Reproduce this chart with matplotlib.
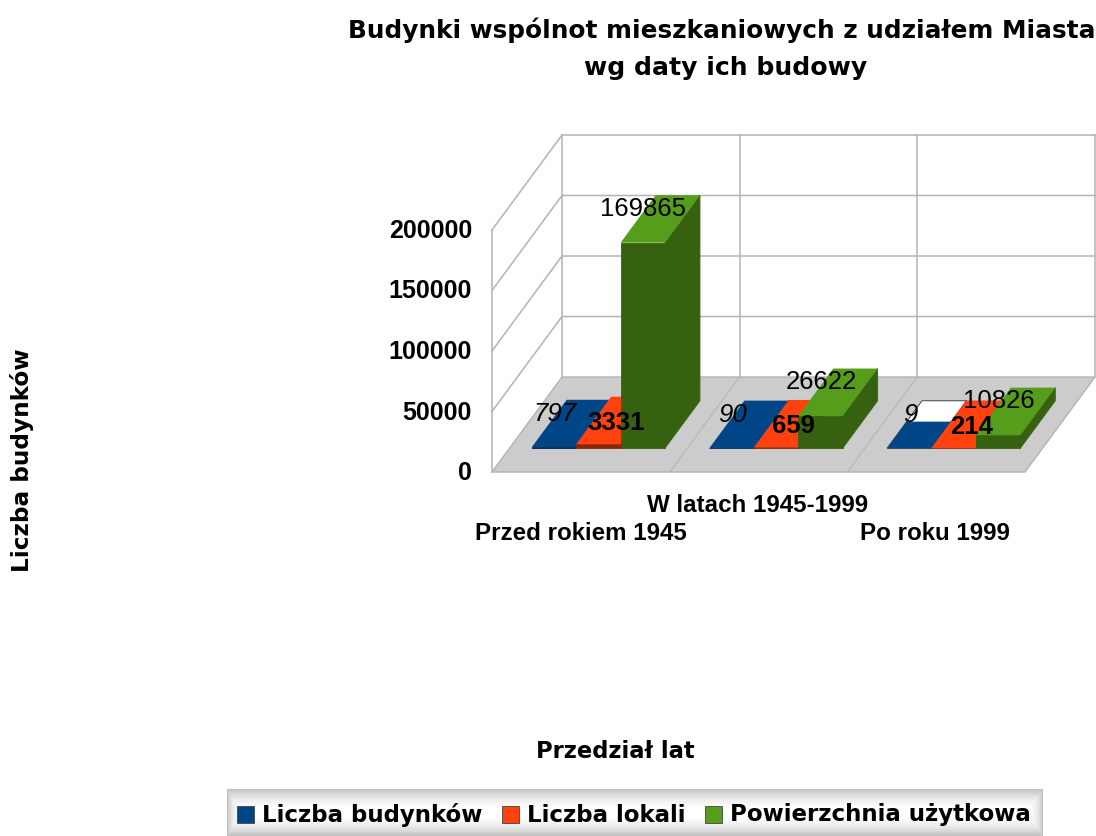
import numpy as np
import matplotlib
matplotlib.use("Agg")
import matplotlib.pyplot as plt
from matplotlib.patches import Polygon, Rectangle

title_lines = ["Budynki wspólnot mieszkaniowych z udziałem Miasta", "wg daty ich budowy"]
categories = ["Przed rokiem 1945", "W latach 1945-1999", "Po roku 1999"]
series_names = ["Liczba budynków", "Liczba lokali", "Powierzchnia użytkowa"]
budynki = [797, 90, 9]
lokale = [3331, 659, 214]
powierzchnia = [169865, 26622, 10826]
y_ticks = [0, 50000, 100000, 150000, 200000]

colors = ["#004586", "#ff420e", "#579d1c"]
dark_colors = ["#00254a", "#8c2408", "#366111"]
GRID = "#b3b3b3"
FLOOR = "#cccccc"

# plot box in pixels
X0, Y0 = 492, 472      # front left corner of the floor
DX, DY = 70, -95       # full depth of the box
CAT_W = 533 / 3
PX_PER_UNIT = 60.5 / 50000


def proj(cat, value, depth):
    # cat in category units, value in data units, depth 0 front .. 1 back
    return (X0 + cat * CAT_W + depth * DX, Y0 + depth * DY - value * PX_PER_UNIT)


fig = plt.figure(figsize=(10.96, 8.36), dpi=100)
ax = fig.add_axes([0, 0, 1, 1])
ax.set_axis_off()

# floor
ax.add_patch(Polygon([proj(0, 0, 0), proj(3, 0, 0), proj(3, 0, 1), proj(0, 0, 1)],
                     facecolor=FLOOR, edgecolor=GRID, lw=1, zorder=1))
for i in range(1, 3):
    ax.plot(*zip(proj(i, 0, 0), proj(i, 0, 1)), color=GRID, lw=0.7, zorder=2)

# walls and grid
for v in y_ticks[1:]:
    ax.plot(*zip(proj(0, v, 0), proj(0, v, 1), proj(3, v, 1)), color=GRID, lw=1.1, zorder=1)
ax.plot(*zip(proj(0, 0, 0), proj(0, 200000, 0)), color=GRID, lw=1.1, zorder=1)
for i in range(4):
    ax.plot(*zip(proj(i, 0, 1), proj(i, 200000, 1)), color=GRID, lw=1.1, zorder=1)

# tick labels
for v in y_ticks:
    x, y = proj(0, v, 0)
    ax.text(x - 20, y + 1, str(v), ha="right", va="center", family="Liberation Sans",
            weight="bold", fontsize=18, color="black", zorder=6)

# bars
all_series = [budynki, lokale, powierzchnia]
BAR_W = 0.25
label_styles = [dict(style="italic", dx=1, dy=-33),
                dict(weight="bold", dx=17.5, dy=-21),
                dict(dx=0.5, dy=-34)]
z = 3
for c in range(len(categories)):
    for s, values in enumerate(all_series):
        v = values[c]
        l = c + 0.125 + s * BAR_W
        r = l + BAR_W
        d0, d1 = 0.25, 0.75
        front = [proj(l, 0, d0), proj(r, 0, d0), proj(r, v, d0), proj(l, v, d0)]
        side = [proj(r, 0, d0), proj(r, 0, d1), proj(r, v, d1), proj(r, v, d0)]
        top = [proj(l, v, d0), proj(r, v, d0), proj(r, v, d1), proj(l, v, d1)]
        ax.add_patch(Polygon(front, facecolor=dark_colors[s], edgecolor=dark_colors[s], lw=0.6, zorder=z))
        ax.add_patch(Polygon(side, facecolor=dark_colors[s], edgecolor=dark_colors[s], lw=0.6, zorder=z))
        if s == 0 and c == 2:
            # the last blue top is only half painted in the original
            ax.add_patch(Polygon(top, facecolor="white", edgecolor="#444444", lw=0.7, zorder=z))
            half = [proj(l, v, d0), proj(r, v, d0), proj(r, v, 0.53), proj(l, v, 0.53)]
            ax.add_patch(Polygon(half, facecolor=colors[s], edgecolor="none", zorder=z))
        else:
            ax.add_patch(Polygon(top, facecolor=colors[s], edgecolor="none", zorder=z))
        z += 0.01

for c in range(len(categories)):
    for s, values in enumerate(all_series):
        st = dict(label_styles[s])
        ox, oy = st.pop("dx"), st.pop("dy")
        l = c + 0.125 + s * BAR_W
        x, y = proj(l + BAR_W / 2, values[c], 0.25)
        ax.text(x + ox, y + oy, str(values[c]), ha="center", va="center", family="Liberation Sans",
                fontsize=18.5, color="black", zorder=7, **st)

# category labels, the middle one sits higher
cat_pos = [(581, 534), (758, 506), (935, 534)]
for name, (x, y) in zip(categories, cat_pos):
    ax.text(x, y, name, ha="center", va="center", family="Liberation Sans", weight="bold", fontsize=17.4)

# titles
ax.text(721.5, 30, title_lines[0], ha="center", va="center", family="DejaVu Sans", weight="bold", fontsize=17.85)
ax.text(725.5, 68, title_lines[1], ha="center", va="center", family="DejaVu Sans", weight="bold", fontsize=18.1)
ax.text(615, 752, "Przedział lat", ha="center", va="center", family="DejaVu Sans", weight="bold", fontsize=16.3)
ax.text(22, 460, "Liczba budynków", rotation=90, ha="center", va="center", family="DejaVu Sans",
        weight="bold", fontsize=16.7)

# legend box with gradient
t = np.abs(np.linspace(-1, 1, 47))
s_x = np.abs(np.linspace(-1, 1, 816))
grad = 1 - np.maximum(0.24 * t[:, None] ** 2 * np.ones((47, 816)),
                      0.24 * (s_x[None, :] ** 80) * np.ones((47, 816)))
ax.imshow(grad, extent=(227, 1043, 836, 789), cmap="gray", vmin=0, vmax=1, aspect="auto", zorder=1)

leg_x = [237, 502, 705]
for name, x, col in zip(series_names, leg_x, colors):
    ax.add_patch(Rectangle((x, 806), 17, 17, facecolor=col, edgecolor="#444444", lw=0.6, zorder=3))
    ax.text(x + 25, 815, name, ha="left", va="center", family="DejaVu Sans", weight="bold",
            fontsize=16.5, zorder=3)

ax.set_xlim(0, 1096)
ax.set_ylim(836, 0)
fig.savefig("out.png", dpi=100)
